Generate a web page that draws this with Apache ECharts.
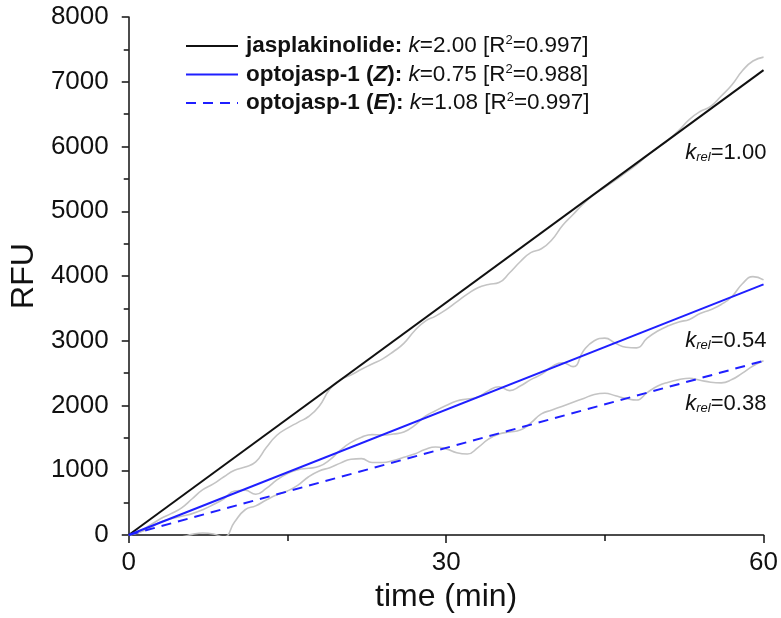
<!DOCTYPE html>
<html>
<head>
<meta charset="utf-8">
<script src="https://cdn.jsdelivr.net/npm/echarts@6/dist/echarts.min.js"></script>
<style>html,body{margin:0;padding:0;background:#fff}#c{width:781px;height:618px}</style>
</head>
<body>
<div id="c"></div>
<script>
// ---- data ----
var times = [];
for (var i = 0; i <= 60; i++) times.push(i);
var jaspRaw = [0,60,150,250,330,420,560,700,790,900,1000,1050,1130,1350,1540,1650,1740,1830,1990,2250,2400,2470,2560,2640,2720,2830,2960,3150,3300,3380,3480,3600,3720,3820,3870,3900,4050,4220,4360,4420,4560,4780,4950,5120,5260,5370,5480,5600,5720,5860,5980,6100,6250,6420,6540,6620,6780,6950,7170,7320,7380];
var zRaw = [0,40,110,200,250,290,330,390,470,560,680,690,630,720,850,950,1010,1030,1060,1160,1310,1430,1510,1550,1545,1560,1590,1690,1830,1920,2000,2070,2100,2130,2230,2290,2230,2300,2400,2480,2600,2660,2600,2850,3000,3040,2960,2900,2890,3040,3150,3230,3290,3330,3420,3480,3560,3680,3880,3990,3940];
var eRaw = [0,-60,-80,-70,-45,-30,10,30,15,-30,200,390,450,540,620,680,770,900,990,1040,1110,1170,1180,1120,1120,1150,1200,1250,1320,1360,1330,1270,1250,1350,1480,1560,1590,1620,1730,1870,1930,1990,2050,2110,2170,2190,2150,2110,2085,2200,2300,2360,2400,2420,2390,2360,2350,2400,2500,2610,2690];
var fitT = [0, 60];
var jaspFit = [0, 7180];
var zFit = [0, 3870];
var eFit = [0, 2690];
var seriesNames = ['jasplakinolide', 'optojasp-1 (Z)', 'optojasp-1 (E)'];
var kValues = ['2.00', '0.75', '1.08'];
var r2Values = ['0.997', '0.988', '0.997'];
var kRel = ['1.00', '0.54', '0.38'];
var kRelPos = [[52.6, 5900], [52.6, 2996], [52.6, 2020]];
var xTickLabels = [0, 30, 60];

function pairs(xs, ys) { return xs.map(function (x, i) { return [x, ys[i]]; }); }

var FONT = 'Liberation Sans, Arial, sans-serif';
var GRAY = '#c4c4c4';
var BLUE = '#1f1fff';
var TXT = '#111';

var LF = 22.5;
var legendRich = {
  b: { fontFamily: FONT, fontWeight: 'bold', fontSize: LF, color: TXT },
  bi: { fontFamily: FONT, fontWeight: 'bold', fontStyle: 'italic', fontSize: LF, color: TXT },
  i: { fontFamily: FONT, fontStyle: 'italic', fontSize: LF, color: TXT },
  n: { fontFamily: FONT, fontSize: LF, color: TXT },
  s: { fontFamily: FONT, fontSize: 13, color: TXT, verticalAlign: 'top', padding: [0, 0, 11, 0] }
};
function legendFmt(name) {
  var idx = seriesNames.indexOf(name);
  var head;
  if (idx === 0) head = '{b|jasplakinolide:}';
  else if (idx === 1) head = '{b|optojasp-1 (}{bi|Z}{b|):}';
  else head = '{b|optojasp-1 (}{bi|E}{b|):}';
  return head + '{n| }{i|k}{n|=' + kValues[idx] + ' [R}{s|2}{n|=' + r2Values[idx] + ']}';
}

var annData = kRelPos.map(function (p, i) { return { value: p, kr: kRel[i] }; });

var option = {
  animation: false,
  backgroundColor: '#fff',
  grid: { left: 128, right: 16, top: 17, bottom: 83, containLabel: false },
  legend: {
    data: seriesNames,
    orient: 'vertical',
    left: 180,
    top: 29,
    itemWidth: 52,
    itemHeight: 14,
    itemGap: 5,
    itemStyle: { opacity: 0 },
    formatter: legendFmt,
    textStyle: { rich: legendRich, padding: [0, 0, 0, 3] }
  },
  xAxis: {
    type: 'value', min: 0, max: 60, interval: 30,
    name: 'time (min)', nameLocation: 'middle', nameGap: 44,
    nameTextStyle: { fontFamily: FONT, fontSize: 32, color: TXT },
    axisLine: { show: true, onZero: false, lineStyle: { color: TXT, width: 1.5 } },
    axisTick: { show: true, length: 8, lineStyle: { color: TXT, width: 1.5 } },
    minorTick: { show: true, splitNumber: 2, length: 6, lineStyle: { color: TXT, width: 1.5 } },
    axisLabel: { fontFamily: FONT, fontSize: 26, color: TXT, margin: 15,
      formatter: function (v) { return xTickLabels.indexOf(v) >= 0 ? String(v) : ''; } },
    splitLine: { show: false }
  },
  yAxis: {
    type: 'value', min: 0, max: 8000, interval: 1000,
    name: 'RFU', nameLocation: 'middle', nameGap: 88,
    nameTextStyle: { fontFamily: FONT, fontSize: 32, color: TXT },
    axisLine: { show: true, onZero: false, lineStyle: { color: TXT, width: 1.5 } },
    axisTick: { show: true, length: 7, lineStyle: { color: TXT, width: 1.5 } },
    minorTick: { show: true, splitNumber: 2, length: 5, lineStyle: { color: TXT, width: 1.5 } },
    axisLabel: { fontFamily: FONT, fontSize: 26, color: TXT, margin: 20,
      formatter: function (v) { return String(v); } },
    splitLine: { show: false }
  },
  series: [
    { name: 'jasp data', type: 'line', data: pairs(times, jaspRaw), smooth: 0.5, symbol: 'none',
      lineStyle: { color: GRAY, width: 1.6 }, z: 1 },
    { name: 'Z data', type: 'line', data: pairs(times, zRaw), smooth: 0.5, symbol: 'none',
      lineStyle: { color: GRAY, width: 1.6 }, z: 1 },
    { name: 'E data', type: 'line', data: pairs(times, eRaw), smooth: 0.5, symbol: 'none',
      lineStyle: { color: GRAY, width: 1.6 }, z: 1 },
    { name: seriesNames[0], type: 'line', data: pairs(fitT, jaspFit), symbol: 'none', color: TXT,
      lineStyle: { color: TXT, width: 2 }, z: 3 },
    { name: seriesNames[1], type: 'line', data: pairs(fitT, zFit), symbol: 'none', color: BLUE,
      lineStyle: { color: BLUE, width: 2 }, z: 3 },
    { name: seriesNames[2], type: 'line', data: pairs(fitT, eFit), symbol: 'none', color: BLUE,
      lineStyle: { color: BLUE, width: 2, type: [10, 7] }, z: 3 },
    { name: 'annotations', type: 'scatter', symbolSize: 0, data: annData, silent: true, z: 4,
      itemStyle: { opacity: 1, color: TXT },
      label: {
        show: true, position: 'right', distance: 0, opacity: 1,
        formatter: function (p) { return '{k|k}{r|rel}{n|=' + p.data.kr + '}'; },
        rich: {
          k: { fontFamily: FONT, fontStyle: 'italic', fontSize: 22, color: TXT },
          r: { fontFamily: FONT, fontStyle: 'italic', fontSize: 13, color: TXT, verticalAlign: 'bottom', padding: [8, 0, 0, 0] },
          n: { fontFamily: FONT, fontSize: 22, color: TXT }
        }
      } }
  ]
};
var chart = echarts.init(document.getElementById('c'), null, { renderer: 'canvas' });
chart.setOption(option);
</script>
</body>
</html>
